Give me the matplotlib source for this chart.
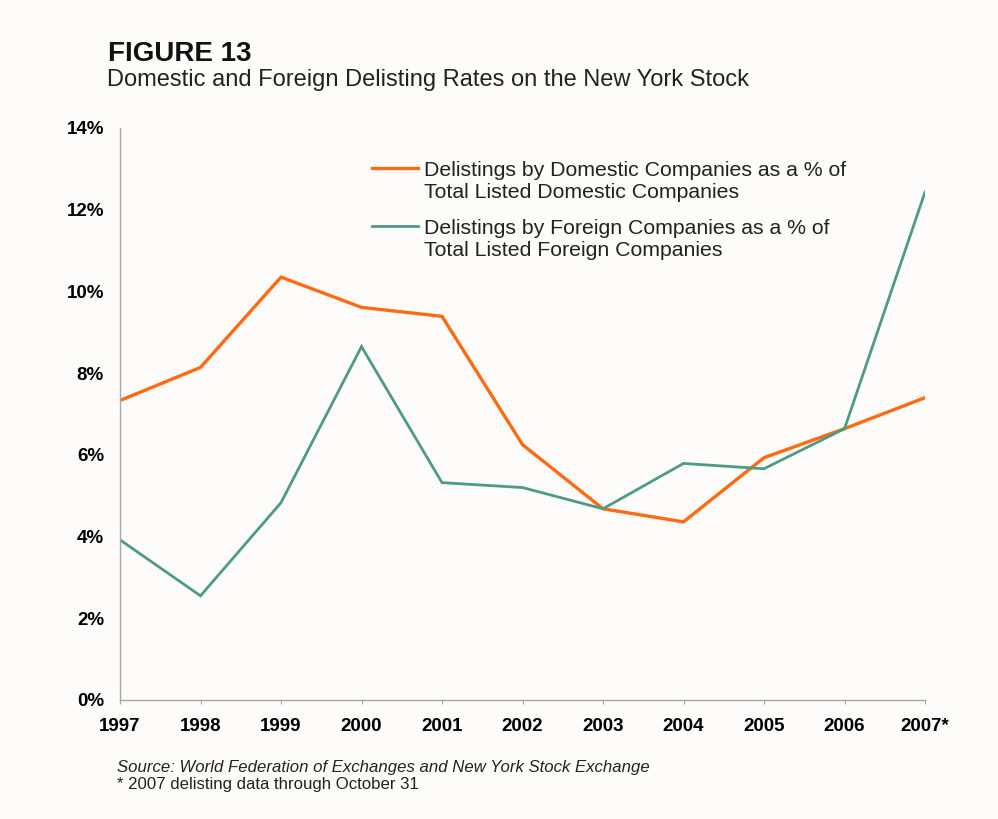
import matplotlib
matplotlib.use("Agg")
import matplotlib.pyplot as plt
from matplotlib.lines import Line2D
from matplotlib.ticker import FuncFormatter

plt.rcParams["font.family"] = ["Liberation Sans", "DejaVu Sans"]

# 数据（从图中读取，单位 %）
YEARS = ["1997", "1998", "1999", "2000", "2001", "2002",
         "2003", "2004", "2005", "2006", "2007*"]
DOMESTIC = [7.33, 8.14, 10.35, 9.61, 9.39, 6.25, 4.68, 4.36, 5.93, 6.64, 7.40]
FOREIGN = [3.92, 2.55, 4.83, 8.65, 5.32, 5.20, 4.68, 5.79, 5.66, 6.64, 12.43]

LABEL_DOM = ["Delistings by Domestic Companies as a % of", "Total Listed Domestic Companies"]
LABEL_FOR = ["Delistings by Foreign Companies as a % of", "Total Listed Foreign Companies"]

ORANGE = "#FF6A13"
GREEN = "#4E9A83"
AXIS_GRAY = "#A6A6A6"
TXT = "#222222"

W, H = 998, 819


def fy(px):
    # 像素 y（自上而下）-> figure 坐标
    return 1 - px / H


fig = plt.figure(figsize=(W / 100, H / 100), dpi=100, facecolor="#FDFCFB")
ax = fig.add_axes([120 / W, fy(700), 805 / W, (700 - 128) / H])
ax.set_facecolor("none")

x = list(range(len(YEARS)))
ax.plot(x, DOMESTIC, color=ORANGE, lw=2.4, solid_joinstyle="miter")
ax.plot(x, FOREIGN, color=GREEN, lw=2.0, solid_joinstyle="miter")

ax.set_xlim(0, len(YEARS) - 1)
ax.set_ylim(0, 14)
ax.set_yticks(range(0, 15, 2))
ax.yaxis.set_major_formatter(FuncFormatter(lambda v, _: f"{v:.0f}%"))
ax.set_xticks(x)
ax.set_xticklabels(YEARS)

for s in ("top", "right"):
    ax.spines[s].set_visible(False)
for s in ("left", "bottom"):
    ax.spines[s].set_color(AXIS_GRAY)
    ax.spines[s].set_linewidth(1.0)

ax.tick_params(axis="y", length=0, pad=11.5, labelsize=13.5)
ax.tick_params(axis="x", length=3, color=AXIS_GRAY, pad=10, labelsize=13.5)
for lab in ax.get_xticklabels() + ax.get_yticklabels():
    lab.set_fontweight("bold")

# 图例：手工绘制，色条与第一行文字对齐
for color, lw, lines, base in ((ORANGE, 2.4, LABEL_DOM, 176), (GREEN, 2.0, LABEL_FOR, 234)):
    fig.add_artist(Line2D([372 / W, 418 / W], [fy(base - 8), fy(base - 8)],
                          color=color, lw=lw, transform=fig.transFigure))
    for i, line in enumerate(lines):
        fig.text(424 / W, fy(base + 22.5 * i), line, fontsize=15.3, color=TXT,
                 va="baseline")

fig.text(108 / W, fy(61), "FIGURE 13", fontsize=20, fontweight="bold",
         color="#111111", va="baseline")
fig.text(107 / W, fy(86), "Domestic and Foreign Delisting Rates on the New York Stock",
         fontsize=17, color=TXT, va="baseline")
fig.text(117 / W, fy(772), "Source: World Federation of Exchanges and New York Stock Exchange",
         fontsize=12.1, style="italic", color=TXT, va="baseline")
fig.text(117 / W, fy(789), "* 2007 delisting data through October 31",
         fontsize=12.1, color=TXT, va="baseline")

fig.savefig("out.png", dpi=100, facecolor=fig.get_facecolor())
